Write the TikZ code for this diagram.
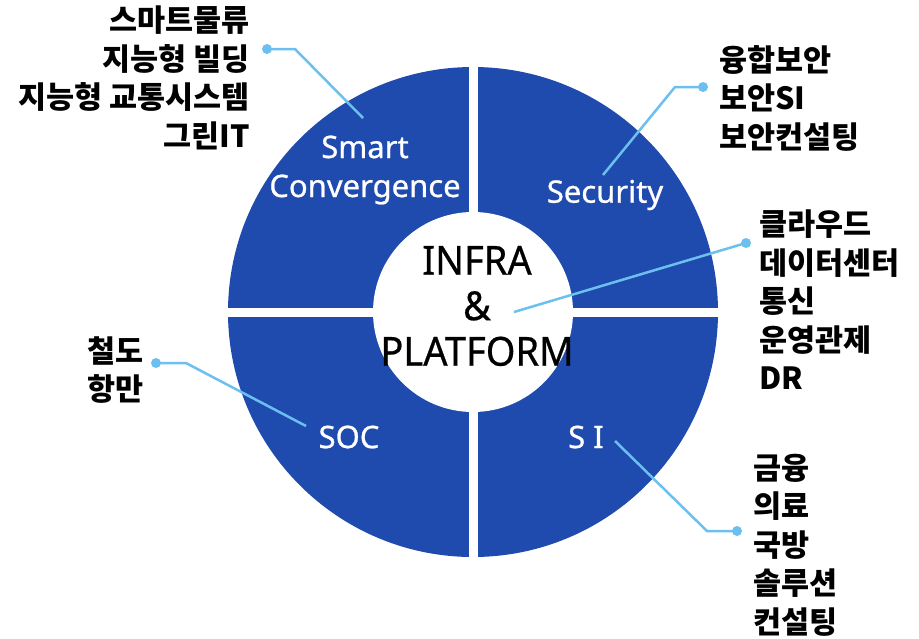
\documentclass[tikz,border=0pt]{standalone}
\usepackage{fontspec}
\newfontfamily\krfont{Noto Sans CJK KR}
\newfontfamily\lafont{Noto Sans}[FakeBold=0.8]
\newfontfamily\hubfont{Noto Sans}[FakeStretch=0.95,FakeBold=0.6]
\definecolor{ringblue}{RGB}{31,74,174}
\definecolor{linkblue}{RGB}{108,192,240}
\begin{document}
\begin{tikzpicture}[x=1pt,y=-1pt,
  list/.style={font=\krfont\bfseries\fontsize{30.5}{38.5}\selectfont, inner sep=0pt, text=black},
  seg/.style={font=\lafont\fontsize{31}{39}\selectfont, text=white, inner sep=0pt, align=center},
  hub/.style={font=\hubfont\fontsize{40}{45.5}\selectfont, text=black, inner sep=0pt, align=center},
  link/.style={draw=linkblue, line width=2.5pt},
  dot/.style={circle, fill=linkblue, inner sep=0pt, minimum size=10pt}]
\useasboundingbox (0,0) rectangle (919,638);

% ring: blue disc, white cross gaps, white hub
\coordinate (c) at (473,312);
\fill[ringblue] (c) circle[radius=245];
\fill[white] (468.5,60) rectangle (477.5,565);
\fill[white] (220,307.5) rectangle (725,316.5);
\fill[white] (c) circle[radius=100];

% hub text
\node[hub] (hub) at (477,306) {INFRA\\\&\\PLATFORM};

% segment labels
\node[seg] (smart) at (365,170) {Smart\\Convergence};
\node[seg] (sec) at (605,195) {Security};
\node[seg] (soc) at (349,437) {SOC};
\node[seg] (si) at (586,437) {S I};

% item lists
\node[list, align=right, anchor=east] (lst1) at (250,78) {스마트물류\\지능형 빌딩\\지능형 교통시스템\\그린IT};
\node[list, align=left, anchor=west] (lst2) at (719,98) {융합보안\\보안SI\\보안컨설팅};
\node[list, align=left, anchor=west] (lst3) at (759,300) {클라우드\\데이터센터\\통신\\운영관제\\DR};
\node[list, align=left, anchor=west] (lst4) at (753,545) {금융\\의료\\국방\\솔루션\\컨설팅};
\node[list, align=left, anchor=west] (lst5) at (87,370) {철도\\항만};

% connector dots and bends
\node[dot] (d1) at (267,49) {};
\node[dot] (d2) at (703,87) {};
\node[dot] (d3) at (746,243) {};
\node[dot] (d4) at (156,363) {};
\node[dot] (d5) at (737,531) {};
\coordinate (b1) at (295,49);
\coordinate (e1) at (363,118);
\coordinate (b2) at (675,87);
\coordinate (e2) at (603,175);
\coordinate (e3) at (514,312);
\coordinate (b4) at (186,363);
\coordinate (e4) at (306,426);
\coordinate (b5) at (707,531);
\coordinate (e5) at (615,441);

% connectors
\draw[link] (d1.center) -- (b1) -- (e1);
\draw[link] (d2.center) -- (b2) -- (e2);
\draw[link] (d3.center) -- (e3);
\draw[link] (d4.center) -- (b4) -- (e4);
\draw[link] (d5.center) -- (b5) -- (e5);
\end{tikzpicture}
\end{document}
